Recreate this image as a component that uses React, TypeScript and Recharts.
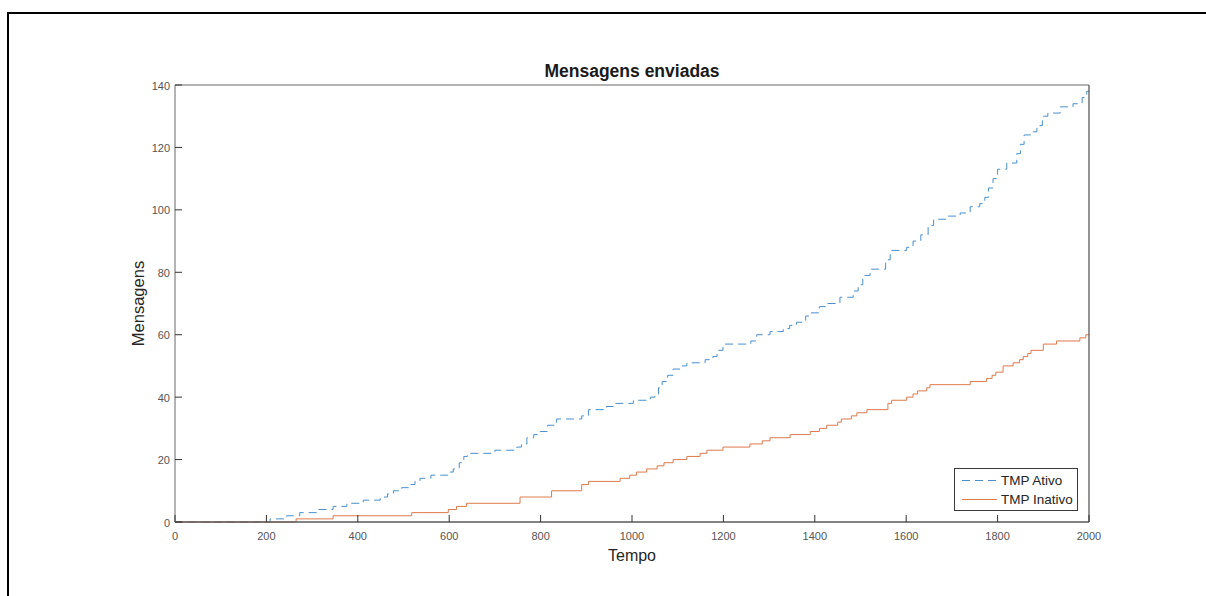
import React from "react";
import { LineChart, Line, XAxis, YAxis, Legend, Label } from "recharts";

// Step changes of the message counters: [tempo, mensagens]
const tempoAtivo = [0, 208, 244, 273, 310, 346, 376, 412, 449, 465, 478, 496, 514, 525, 536, 560, 600, 609, 622, 632, 640, 700, 748, 758, 770, 785, 799, 815, 835, 890, 905, 944, 959, 1003, 1040, 1050, 1058, 1066, 1078, 1090, 1105, 1120, 1160, 1177, 1186, 1199, 1260, 1273, 1302, 1331, 1345, 1360, 1380, 1392, 1410, 1426, 1455, 1484, 1495, 1505, 1521, 1555, 1565, 1601, 1615, 1632, 1648, 1660, 1689, 1718, 1740, 1761, 1772, 1780, 1790, 1800, 1820, 1842, 1850, 1858, 1872, 1886, 1898, 1910, 1937, 1965, 1985, 1995, 2000];
const msgAtivo = [0, 1, 2, 3, 4, 5, 6, 7, 8, 9, 10, 11, 12, 13, 14, 15, 16, 17, 19, 21, 22, 23, 24, 25, 27, 28, 29, 31, 33, 34, 36, 37, 38, 39, 40, 41, 43, 45, 47, 49, 50, 51, 52, 53, 55, 57, 58, 60, 61, 62, 63, 64, 66, 67, 69, 70, 72, 74, 76, 79, 81, 84, 87, 88, 90, 92, 95, 97, 98, 99, 101, 102, 104, 107, 110, 113, 115, 118, 121, 124, 125, 127, 130, 131, 133, 134, 136, 138, 138];

const tempoInativo = [0, 265, 346, 518, 598, 616, 638, 755, 824, 890, 905, 974, 995, 1010, 1032, 1055, 1070, 1090, 1120, 1149, 1164, 1199, 1258, 1285, 1302, 1346, 1390, 1410, 1426, 1450, 1458, 1480, 1492, 1514, 1560, 1568, 1601, 1615, 1625, 1645, 1652, 1740, 1776, 1788, 1796, 1812, 1834, 1848, 1856, 1866, 1873, 1900, 1929, 1980, 1993, 2000];
const msgInativo = [0, 1, 2, 3, 4, 5, 6, 8, 10, 12, 13, 14, 15, 16, 17, 18, 19, 20, 21, 22, 23, 24, 25, 26, 27, 28, 29, 30, 31, 32, 33, 34, 35, 36, 38, 39, 40, 41, 42, 43, 44, 45, 46, 47, 48, 50, 51, 52, 53, 54, 55, 57, 58, 59, 60, 60];

const xTicks = [0, 200, 400, 600, 800, 1000, 1200, 1400, 1600, 1800, 2000];
const yTicks = [0, 20, 40, 60, 80, 100, 120, 140];

const ativoData = tempoAtivo.map((t, i) => ({ t, v: msgAtivo[i] }));
const inativoData = tempoInativo.map((t, i) => ({ t, v: msgInativo[i] }));

const FONT = "'Liberation Sans', Arial, Helvetica, sans-serif";
const TICK_LEN = 7;
const TICK_COLOR = "#333333";
const LABEL_COLOR = "#555555";
const BLUE = "#4a8fcc";
const ORANGE = "#dd7a4c";

const BottomTick = (props: any) => {
  const { x, y, payload } = props;
  return (
    <g>
      <line x1={x} y1={y} x2={x} y2={y - TICK_LEN} stroke={TICK_COLOR} strokeWidth={1} />
      <text x={x} y={y + 17.5} textAnchor="middle" fontSize={11} fill={LABEL_COLOR} fontFamily={FONT}>
        {payload.value}
      </text>
    </g>
  );
};

const TopTick = (props: any) => {
  const { x, y } = props;
  return <line x1={x} y1={y} x2={x} y2={y + TICK_LEN} stroke={TICK_COLOR} strokeWidth={1} />;
};

const LeftTick = (props: any) => {
  const { x, y, payload } = props;
  return (
    <g>
      <line x1={x} y1={y} x2={x + TICK_LEN} y2={y} stroke={TICK_COLOR} strokeWidth={1} />
      <text x={x - 5} y={y + 4.5} textAnchor="end" fontSize={11} fill={LABEL_COLOR} fontFamily={FONT}>
        {payload.value}
      </text>
    </g>
  );
};

const RightTick = (props: any) => {
  const { x, y } = props;
  return <line x1={x} y1={y} x2={x - TICK_LEN} y2={y} stroke={TICK_COLOR} strokeWidth={1} />;
};

const LegendBox = (props: any) => {
  const items = (props.payload || []) as any[];
  return (
    <div
      style={{
        position: "relative",
        width: 124,
        height: 43,
        boxSizing: "border-box",
        border: "1px solid #3a3a3a",
        background: "#fff",
        fontFamily: FONT,
      }}
    >
      {items.map((entry, i) => (
        <div
          key={entry.value}
          style={{
            position: "absolute",
            left: 7,
            top: 2 + i * 19,
            height: 19,
            display: "flex",
            alignItems: "center",
            whiteSpace: "nowrap",
          }}
        >
          <svg width={36} height={19} style={{ display: "block" }}>
            <line
              x1={0}
              y1={9.5}
              x2={35}
              y2={9.5}
              stroke={entry.color}
              strokeWidth={1}
              strokeDasharray={entry.payload?.strokeDasharray}
            />
          </svg>
          <span style={{ fontSize: 13.5, color: "#262626", marginLeft: 3 }}>{entry.value}</span>
        </div>
      ))}
    </div>
  );
};

export default function App() {
  return (
    <div style={{ position: "fixed", left: 0, top: 0, width: 1206, height: 596, background: "#fff", overflow: "hidden" }}>
      <div
        style={{
          position: "absolute",
          left: 7,
          top: 12,
          width: 1199,
          height: 584,
          boxSizing: "border-box",
          borderTop: "2px solid #000",
          borderLeft: "2px solid #000",
        }}
      />
      <div style={{ position: "absolute", left: 0, top: 0 }}>
        <LineChart width={1206} height={596} margin={{ top: 84, right: 116, bottom: 73, left: 174 }}>
          <XAxis
            xAxisId="main"
            dataKey="t"
            type="number"
            domain={[0, 2000]}
            ticks={xTicks}
            interval={0}
            height={1}
            tickSize={0}
            tickMargin={0}
            tick={<BottomTick />}
            tickLine={false}
            axisLine={{ stroke: "#5a5a5a", strokeWidth: 1.3 }}
          >
            <Label
              content={(p: any) => {
                const vb = p.viewBox || { x: 175, y: 522, width: 914 };
                return (
                  <text x={vb.x + vb.width / 2} y={vb.y + 39} textAnchor="middle" fontSize={16} fill="#262626" fontFamily={FONT}>
                    Tempo
                  </text>
                );
              }}
            />
          </XAxis>
          <XAxis
            xAxisId="top"
            orientation="top"
            type="number"
            domain={[0, 2000]}
            ticks={xTicks}
            interval={0}
            height={1}
            tickSize={0}
            tickMargin={0}
            tick={<TopTick />}
            tickLine={false}
            axisLine={{ stroke: "#9a9a9a", strokeWidth: 1.5 }}
          >
            <Label
              content={(p: any) => {
                const vb = p.viewBox || { x: 175, y: 84, width: 914, height: 1 };
                return (
                  <text x={vb.x + vb.width / 2} y={vb.y + vb.height - 8} textAnchor="middle" fontSize={17.5} fontWeight="bold" fill="#1a1a1a" fontFamily={FONT}>
                    Mensagens enviadas
                  </text>
                );
              }}
            />
          </XAxis>
          <YAxis
            yAxisId="main"
            type="number"
            domain={[0, 140]}
            ticks={yTicks}
            interval={0}
            width={1}
            tickSize={0}
            tickMargin={0}
            tick={<LeftTick />}
            tickLine={false}
            axisLine={{ stroke: "#9a9a9a", strokeWidth: 1.5 }}
          >
            <Label
              content={(p: any) => {
                const vb = p.viewBox || { x: 174, y: 85, width: 1, height: 437 };
                const lx = vb.x + vb.width - 31;
                const ly = vb.y + vb.height / 2;
                return (
                  <text x={lx} y={ly} transform={`rotate(-90, ${lx}, ${ly})`} textAnchor="middle" fontSize={16.5} fill="#262626" fontFamily={FONT}>
                    Mensagens
                  </text>
                );
              }}
            />
          </YAxis>
          <YAxis
            yAxisId="right"
            orientation="right"
            type="number"
            domain={[0, 140]}
            ticks={yTicks}
            interval={0}
            width={1}
            tickSize={0}
            tickMargin={0}
            tick={<RightTick />}
            tickLine={false}
            axisLine={{ stroke: "#5a5a5a", strokeWidth: 1.3 }}
          />
          <Line
            xAxisId="main"
            yAxisId="main"
            data={ativoData}
            dataKey="v"
            name="TMP Ativo"
            type="stepAfter"
            stroke={BLUE}
            strokeWidth={1}
            strokeDasharray="8 5"
            dot={false}
            activeDot={false}
            isAnimationActive={false}
          />
          <Line
            xAxisId="main"
            yAxisId="main"
            data={inativoData}
            dataKey="v"
            name="TMP Inativo"
            type="stepAfter"
            stroke={ORANGE}
            strokeWidth={1}
            dot={false}
            activeDot={false}
            isAnimationActive={false}
          />
          <Legend
            layout="horizontal"
            align="center"
            verticalAlign="middle"
            wrapperStyle={{ left: 954, top: 468, width: 124, height: 43 }}
            content={<LegendBox />}
          />
        </LineChart>
      </div>
    </div>
  );
}
